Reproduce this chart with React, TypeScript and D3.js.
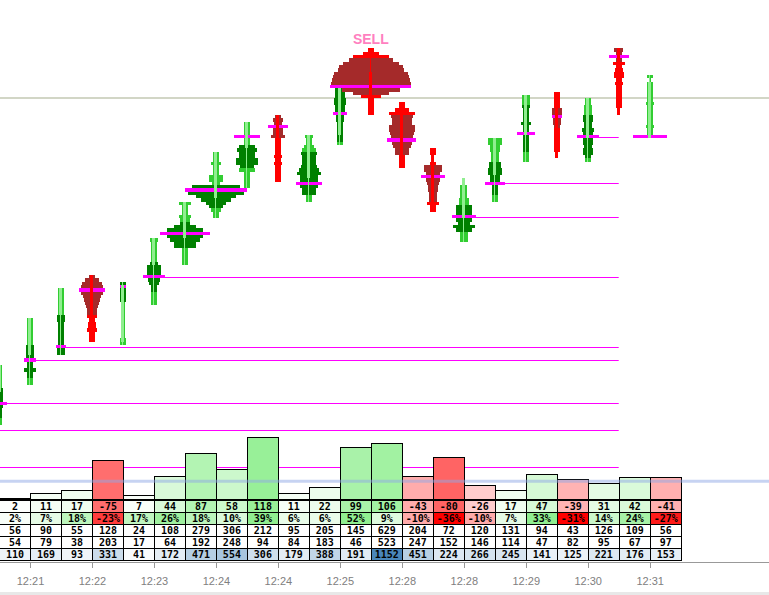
import * as d3 from 'd3';

const TICK = 0.25;

// per-candle prices (top traded level, body, point of control, value area)
const highs = [4512.5, 4516, 4518.25, 4519.25, 4518.75, 4522, 4524.75, 4528.5, 4530.75, 4531.25, 4529.75, 4533.5, 4536.25, 4532.25, 4528.75, 4526.5, 4529.5, 4532.75, 4533, 4532.5, 4536.25, 4534.25];
const opens = [4510.75, 4513.5, 4516.5, 4519.25, 4514.5, 4520.25, 4522.25, 4525.25, 4529, 4531.25, 4526.75, 4530, 4534.5, 4532.25, 4528.75, 4523.75, 4527, 4530, 4533, 4529.75, 4536.25, 4529.75];
const closes = [4512.5, 4516, 4518.25, 4514.5, 4518.5, 4522, 4524.75, 4528.5, 4530.75, 4526.5, 4529.75, 4533.25, 4531.5, 4527.5, 4524.25, 4526.5, 4529.5, 4532.75, 4528.25, 4532.5, 4531.5, 4533.75];
const pocs = [4509.75, 4513, 4514, 4518.25, 4518.5, 4519.25, 4522.5, 4525.75, 4529.75, 4530.5, 4526.25, 4531.5, 4533.5, 4529.5, 4526.75, 4523.75, 4526.25, 4530, 4531.25, 4529.75, 4535.75, 4529.75];
const vaHighs = [4510.75, 4514, 4516.25, 4519.25, 4518.75, 4520.25, 4523.25, 4526, 4529, 4531.25, 4528.5, 4533.5, 4535.5, 4531.25, 4527.5, 4524.5, 4527.75, 4532, 4531.75, 4531.25, 4536.25, NaN];
const vaLows = [4508.75, 4511.75, 4513.5, 4516.5, 4517.5, 4518.25, 4521.5, 4524.5, 4527.5, 4529.75, 4525.5, 4529.5, 4533, 4528.5, 4525, 4522.75, 4525.5, 4528.75, 4530.5, 4528.25, 4535.5, NaN];

// volume at each price level, from the high downwards
const profiles: number[][] = [
  [9, 9, 9, 9, 9, 9, 9, 12, 12, 12, 12, 24, 12, 10, 10, 10, 9, 9],
  [9, 9, 9, 9, 9, 9, 9, 9, 13, 12, 12, 12, 18, 9, 9, 18, 10, 10, 9, 9],
  [9, 9, 9, 9, 9, 9, 9, 9, 12, 11, 9, 9, 9, 9, 9, 9, 9, 14, 12, 12],
  [9, 21, 30, 33, 40, 33, 27, 24, 21, 18, 16, 14, 15, 10, 12, 12, 14, 9, 9, 9],
  [9, 9, 9, 9, 9, 9, 6, 6, 6, 6, 6, 6, 6, 6, 6, 6, 6, 9, 9],
  [11, 8, 8, 8, 8, 8, 9, 11, 20, 20, 20, 33, 18, 14, 10, 10, 9, 9, 9, 9],
  [18, 9, 9, 9, 18, 15, 15, 33, 54, 75, 54, 45, 33, 33, 9, 9, 9, 9, 9],
  [9, 8, 8, 15, 9, 9, 9, 21, 21, 12, 72, 93, 84, 60, 45, 30, 21, 15, 9, 9],
  [9, 9, 9, 9, 39, 9, 9, 24, 30, 24, 24, 33, 33, 21, 24, 9, 9, 9, 9, 9],
  [9, 15, 12, 30, 15, 15, 20, 9, 9, 9, 9, 9, 12, 9, 12, 9, 9, 9, 9, 9],
  [12, 9, 9, 14, 21, 24, 22, 21, 21, 24, 30, 36, 28, 27, 40, 27, 21, 21, 9, 9],
  [15, 15, 15, 15, 18, 18, 15, 15, 21, 12, 12, 10, 10, 10, 10, 10, 10, 9],
  [9, 24, 54, 66, 84, 96, 99, 111, 114, 117, 120, 122, 87, 54, 30, 9, 9, 9, 9, 9],
  [9, 9, 21, 39, 33, 30, 30, 39, 39, 36, 33, 44, 30, 27, 21, 21, 9, 9, 9, 9],
  [9, 9, 2, 2, 9, 27, 27, 21, 36, 21, 18, 15, 15, 12, 12, 12, 18, 9, 9],
  [3, 3, 10, 10, 10, 10, 15, 15, 24, 24, 24, 36, 24, 18, 33, 24, 12, 12, 12],
  [21, 21, 15, 15, 12, 12, 12, 18, 18, 21, 21, 15, 15, 30, 9, 9, 9, 9, 9],
  [12, 12, 12, 12, 9, 9, 9, 9, 15, 9, 9, 27, 9, 9, 9, 9, 9, 9, 9, 9],
  [9, 9, 9, 9, 9, 15, 15, 15, 12, 12, 9, 9, 9, 9, 9, 9, 9, 9, 5, 5],
  [9, 9, 12, 12, 12, 15, 15, 12, 12, 18, 15, 33, 15, 15, 12, 15, 15, 9, 9],
  [14, 9, 30, 9, 18, 9, 12, 15, 15, 9, 12, 9, 9, 9, 9, 9, 9, 9, 5, 5],
  [9, 3, 9, 9, 9, 9, 9, 9, 12, 9, 9, 9, 9, 9, 9, 12, 9, 9, 51],
];

// footprint table rows
const deltas = [2, 11, 17, -75, 7, 44, 87, 58, 118, 11, 22, 99, 106, -43, -80, -26, 17, 47, -39, 31, 42, -41];
const deltaPct = [2, 7, 18, -23, 17, 26, 18, 10, 39, 6, 6, 52, 9, -10, -36, -10, 7, 33, -31, 14, 24, -27];
const buys = [56, 90, 55, 128, 24, 108, 279, 306, 212, 95, 205, 145, 629, 204, 72, 120, 131, 94, 43, 126, 109, 56];
const sells = [54, 79, 38, 203, 17, 64, 192, 248, 94, 84, 183, 46, 523, 247, 152, 146, 114, 47, 82, 95, 67, 97];
const totals = [110, 169, 93, 331, 41, 172, 471, 554, 306, 179, 388, 191, 1152, 451, 224, 266, 245, 141, 125, 221, 176, 153];

// untested POCs (candle they start from, price)
const nakedFrom = [-3, -3, 0, 1, 2, 5, 15, 16, 19];
const nakedPrices = [4507.75, 4505, 4509.75, 4513, 4514, 4519.25, 4523.75, 4526.25, 4529.75];

const refLevel = 4532.65;
const avgDelta = 34;
const signalIdx = 12;
const signalText = 'SELL';

const tickIdx = [1, 3, 5, 7, 9, 11, 13, 15, 17, 19, 21];
const tickLabels = ['12:21', '12:22', '12:23', '12:24', '12:24', '12:25', '12:28', '12:28', '12:29', '12:30', '12:31'];

const W = 769;
const H = 595;

const DARK_GREEN = '#008000';
const LIME = '#32cd32';
const LIGHT = '#90ee90';
const BROWN = '#a52a2a';
const RED = '#ff0000';

export default function App() {
  const n = highs.length;
  const x = d3.scaleLinear().domain([0, n - 1]).range([-1, 649.7]);
  const y = d3.scaleLinear().domain([4498, 4540]).range([560, 0]);
  const wScale = d3.scaleLinear().domain([0, 120]).range([0, 40]);
  const barH = d3.scaleLinear().domain([0, 118]).range([0, 62]);
  const barBase = 499;
  const rowTop = 500;
  const rowH = 12;
  const colW = x(1) - x(0);

  const posDelta = d3.scaleLinear<string>().domain([0, 118]).range(['#ffffff', '#98f098']).clamp(true);
  const negDelta = d3.scaleLinear<string>().domain([0, 80]).range(['#ffffff', '#ff6464']).clamp(true);
  const deltaFill = (d: number) => (d >= 0 ? posDelta(d) : negDelta(-d));
  const posPct = d3.scaleLinear<string>().domain([0, 30]).range(['#ffffff', '#90ee90']).clamp(true);
  const negPct = d3.scaleLinear<string>().domain([0, 30]).range(['#ffffff', '#ff0000']).clamp(true);
  const pctFill = (p: number) => (p >= 0 ? posPct(p) : negPct(-p));
  const volFill = d3.scaleLinear<string>().domain([0, 1152]).range(['#ffffff', '#4a86ba']);

  const lvl = (p: number) => ({ top: y(p + TICK / 2), h: y(p - TICK / 2) - y(p + TICK / 2) });

  const rows = [
    { vals: deltas, fmt: (v: number) => `${v}`, fill: deltaFill },
    { vals: deltaPct, fmt: (v: number) => `${v}%`, fill: pctFill },
    { vals: buys, fmt: (v: number) => `${v}`, fill: () => '#ffffff' },
    { vals: sells, fmt: (v: number) => `${v}`, fill: () => '#ffffff' },
    { vals: totals, fmt: (v: number) => `${v}`, fill: (v: number) => volFill(v) },
  ];

  return (
    <svg width={W} height={H} style={{ position: 'absolute', left: 0, top: 0, background: '#fff' }}
      fontFamily="'Liberation Sans', Arial, sans-serif">
      {/* reference level */}
      <line x1={0} x2={W} y1={y(refLevel)} y2={y(refLevel)} stroke="#d2d6c6" strokeWidth={2} />

      {/* naked POC lines */}
      {nakedPrices.map((p, i) => (
        <line key={`np${i}`} x1={x(nakedFrom[i])} x2={x(n - 2)} y1={Math.round(y(p)) + 0.5} y2={Math.round(y(p)) + 0.5}
          stroke="#ff00ff" strokeWidth={1} />
      ))}

      {/* footprint candles */}
      {highs.map((hi, i) => {
        const cx = x(i);
        const up = closes[i] >= opens[i];
        const prof = profiles[i];
        const lo = hi - (prof.length - 1) * TICK;
        const pocK = Math.round((hi - pocs[i]) / TICK);
        const pl = lvl(pocs[i]);
        const pw = wScale(prof[pocK]);
        const bTop = y(Math.max(opens[i], closes[i]) + TICK / 2);
        const bBot = y(Math.min(opens[i], closes[i]) - TICK / 2);
        return (
          <g key={`c${i}`} shapeRendering="crispEdges">
            {prof.map((v, k) => {
              const p = hi - k * TICK;
              const inVA = p <= vaHighs[i] + 1e-6 && p >= vaLows[i] - 1e-6;
              const fill = up ? (inVA ? DARK_GREEN : LIME) : (inVA ? BROWN : RED);
              const hw = wScale(v);
              const l = lvl(p);
              return <rect key={k} x={cx - hw} y={l.top} width={hw * 2} height={l.h} fill={fill} />;
            })}
            <rect x={cx - pw} y={pl.top} width={pw * 2} height={pl.h} fill="#ff00ff" />
            <rect x={cx - 0.5} y={y(hi + TICK / 2)} width={1} height={y(lo - TICK / 2) - y(hi + TICK / 2)}
              fill={up ? LIGHT : RED} />
            <rect x={cx - 1.5} y={bTop} width={3} height={bBot - bTop} fill={up ? LIGHT : RED} />
          </g>
        );
      })}

      <text x={x(signalIdx)} y={44} textAnchor="middle" fontSize={14} fontWeight="bold" fill="#ff7fc0">
        {signalText}
      </text>

      {/* delta bars */}
      <g shapeRendering="crispEdges">
        {deltas.map((d, i) => (
          <rect key={`b${i}`} x={Math.round(x(i)) + 0.5} y={Math.round(barBase - barH(Math.abs(d))) + 0.5}
            width={Math.round(colW)} height={Math.round(barH(Math.abs(d)))}
            fill={deltaFill(d)} stroke="#000" strokeWidth={1} />
        ))}
      </g>
      <line x1={0} x2={W} y1={barBase - barH(avgDelta)} y2={barBase - barH(avgDelta)}
        stroke="#8fa8e6" strokeOpacity={0.5} strokeWidth={3} />

      {/* table */}
      <g shapeRendering="crispEdges" fontFamily="'DejaVu Sans Mono', monospace" fontSize={10} fontWeight="bold">
        {rows.map((r, ri) =>
          r.vals.map((v, i) => (
            <g key={`t${ri}-${i}`}>
              <rect x={Math.round(x(i)) + 0.5} y={rowTop + ri * rowH + 0.5} width={Math.round(colW)} height={rowH}
                fill={r.fill(v)} stroke="#000" strokeWidth={1} />
              <text x={x(i) + colW / 2 + 0.5} y={rowTop + ri * rowH + 10} textAnchor="middle" fill="#000">
                {r.fmt(v)}
              </text>
            </g>
          )),
        )}
        <line x1={x(0)} x2={x(n)} y1={rowTop} y2={rowTop} stroke="#000" strokeWidth={2} />
      </g>

      {/* time axis */}
      <g shapeRendering="crispEdges">
        <line x1={0} x2={W} y1={562.5} y2={562.5} stroke="#999" strokeWidth={1} />
        {tickIdx.map((t, i) => (
          <g key={`tk${i}`}>
            <line x1={Math.round(x(t)) + 0.5} x2={Math.round(x(t)) + 0.5} y1={563} y2={568} stroke="#999" />
            <text x={x(t) + 0.5} y={585} textAnchor="middle" fontSize={11} fill="#808080">{tickLabels[i]}</text>
          </g>
        ))}
      </g>
      <rect x={0} y={592} width={W} height={3} fill="#e8e8e8" />
    </svg>
  );
}
